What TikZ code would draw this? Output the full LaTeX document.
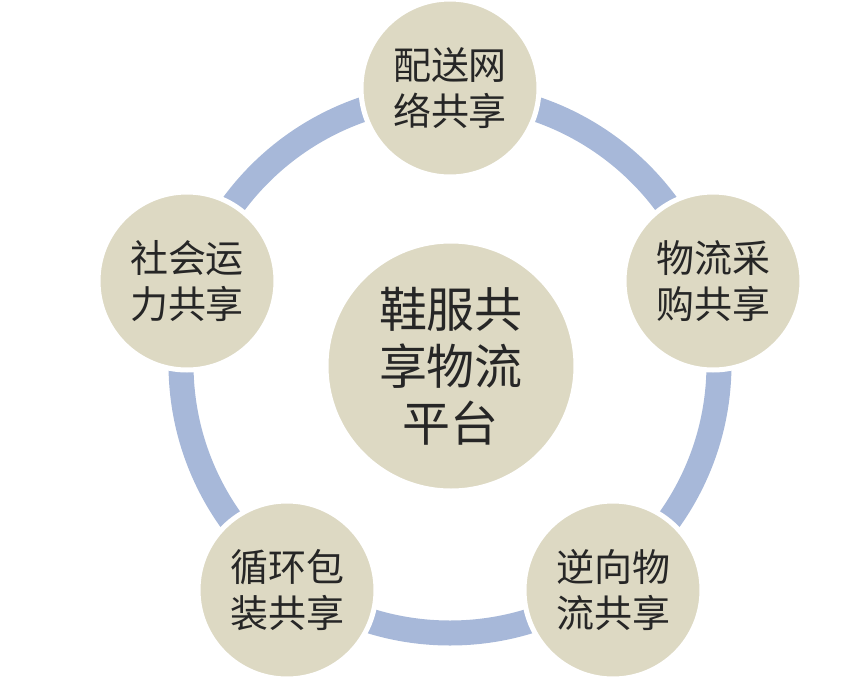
\documentclass[tikz,border=0pt]{standalone}
\usepackage{fontspec}
\setmainfont{Noto Sans CJK SC}
\definecolor{ringblue}{HTML}{A7B8D9}
\definecolor{nodetan}{HTML}{DDD9C3}
\definecolor{inkgray}{HTML}{262626}
\begin{document}
\begin{tikzpicture}[x=0.5pt, y=-0.5pt,
        share/.style={circle, fill=nodetan, draw=white, line width=2.5pt,
            minimum size=89pt, inner sep=0pt, align=center, text=inkgray,
            font=\fontsize{19pt}{23pt}\selectfont},
        hub/.style={share, minimum size=125pt,
            font=\fontsize{24pt}{28.5pt}\selectfont}]
    \useasboundingbox (0,0) rectangle (864,681);
    \coordinate (ringc) at (450,364);
    % ring behind the nodes
    \draw[ringblue, line width=12.5pt] (ringc) circle[radius=134.5pt];
    \node[hub] (platform) at (451,366) {鞋服共\\享物流\\平台};
    \node[share] (delivery) at (450,88) {配送网\\络共享};
    \node[share] (purchase) at (713,281) {物流采\\购共享};
    \node[share] (reverse) at (613,590) {逆向物\\流共享};
    \node[share] (package) at (287,590) {循环包\\装共享};
    \node[share] (capacity) at (187,281) {社会运\\力共享};
\end{tikzpicture}
\end{document}
